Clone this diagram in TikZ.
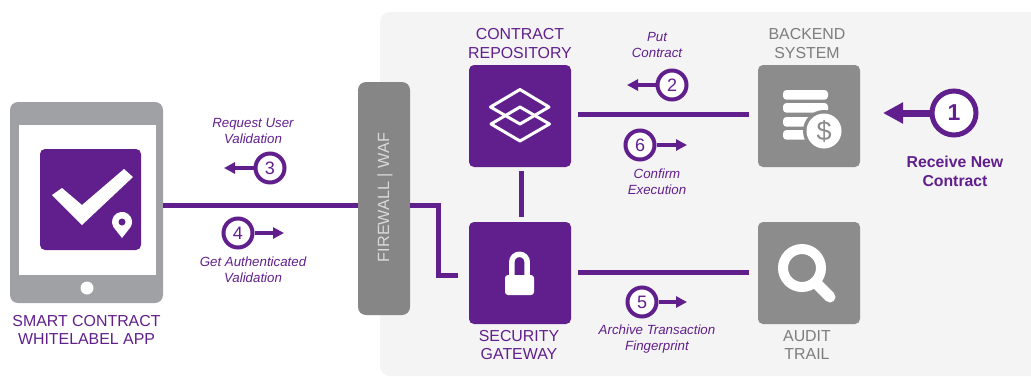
\documentclass[tikz,border=0pt]{standalone}
\usepackage{fontspec}
\setmainfont{Liberation Sans}
\usepackage{tikz}
\usetikzlibrary{positioning, arrows.meta}
\definecolor{grape}{RGB}{97,31,141}
\definecolor{slab}{RGB}{140,140,140}
\definecolor{wall}{RGB}{134,134,134}
\definecolor{shell}{RGB}{160,161,164}
\definecolor{panel}{RGB}{244,244,244}
\definecolor{tag}{RGB}{125,125,125}

\begin{document}
\begin{tikzpicture}[
				x=1pt, y=-1pt,
				>={Triangle[length=11pt, width=11pt]},
				tile/.style={rectangle, rounded corners=5pt, minimum size=102pt, inner sep=0pt, fill=grape},
				graytile/.style={tile, fill=slab},
				caption/.style={align=center, text=grape, font=\fontsize{15.9}{18.5}\selectfont},
				graycaption/.style={caption, text=tag},
				note/.style={align=center, text=grape, font=\fontsize{13.3}{16}\selectfont\itshape},
				stepmark/.style={circle, draw=grape, line width=4pt, fill=white, minimum size=29pt, inner sep=0pt, text=grape, font=\fontsize{18}{18}\selectfont},
				link/.style={draw=grape, line width=5pt},
				flow/.style={->, draw=grape, line width=3.5pt},
				glyph/.style={draw=white, line width=3pt, line join=round}]
				
			\useasboundingbox (0,0) rectangle (1031,376);
			\fill[panel, rounded corners=10pt] (1031,376) -- (380,376) -- (380,12) [sharp corners] -- (1031,12) -- cycle;
			
			% tablet
			\node[rectangle, rounded corners=8pt, minimum width=153pt, minimum height=201pt, inner sep=0pt, fill=shell] (tablet) at (86.5,202.5) {};
			\node[rectangle, minimum width=137pt, minimum height=150pt, inner sep=0pt, fill=white] (screen) at (87.5,200) {};
			\node[tile, minimum size=101pt] (app) at (90.5,199.5) {};
			\node[circle, minimum size=13pt, inner sep=0pt, fill=white] (button) at (87,288) {};
			\fill[white] (52,195) -- (62,188) -- (82,205) -- (124,169) -- (133,177) -- (82,225) -- cycle;
			\fill[white] (122,238) -- (113.4,227) arc[start angle=149.5, end angle=390.5, radius=10] -- cycle;
			\fill[grape] (122,222) circle[radius=3.5];
			\node[caption, below of=tablet, node distance=127.5pt] (tablet_label) {SMART CONTRACT\\WHITELABEL APP};
			
			% firewall
			\node[rectangle, rounded corners=8pt, minimum width=52pt, minimum height=233pt, inner sep=0pt, fill=wall] (firewall) at (384,198.5) {};
			\node[rotate=90, text=white!85!black, font=\fontsize{16.2}{18}\selectfont] (firewall_label) at (385,197.5) {FIREWALL | WAF};
			
			% tiles
			\node[tile] (repository) at (520,116) {};
			\node[graytile, right of=repository, node distance=289pt] (backend) {};
			\node[tile, below of=repository, node distance=157pt] (gateway) {};
			\node[graytile, right of=gateway, node distance=289pt] (audit) {};
			
			\node[caption, above of=repository, node distance=72.5pt] (repository_label) {CONTRACT\\REPOSITORY};
			\node[graycaption, above of=backend, node distance=72.5pt, xshift=-2pt] (backend_label) {BACKEND\\SYSTEM};
			\node[caption, below of=gateway, node distance=72pt, xshift=-1pt] (gateway_label) {SECURITY\\GATEWAY};
			\node[graycaption, below of=audit, node distance=72pt, xshift=-2pt] (audit_label) {AUDIT\\TRAIL};
			
			% icons
			\draw[glyph] (490.5,107) -- (520,89.5) -- (549,107) -- (520,124) -- cycle;
			\draw[glyph] (491,124) -- (520,107) -- (549.5,124) -- (520,141) -- cycle;
			
			\draw[white, line width=5.5pt] (511.8,276) -- (511.8,262) arc[start angle=180, end angle=360, radius=7.7] -- (527.2,276);
			\fill[white, rounded corners=3pt] (505,275) rectangle (534,295);
			
			\foreach \barY in {90,103,117,130}
				\fill[white, rounded corners=3.5pt] (783,\barY) rectangle (828,\barY+9.7);
			\fill[slab] (824,131) circle[radius=21];
			\node[circle, minimum size=35pt, inner sep=0pt, fill=white, text=slab, font=\fontsize{27}{27}\selectfont] (coin) at (824,131) {\$};
			
			\draw[white, line width=10pt] (802,268) circle[radius=19];
			\draw[white, line width=11pt, line cap=round] (816,283) -- (830,297);
			
			% connectors
			\draw[link] ([yshift=-2.5pt]tablet.east) -- ([yshift=-6.5pt]firewall.west);
			\draw[link, shorten >=11pt] ([yshift=-6.5pt]firewall.east) -- ++(28.5,0) |- ([yshift=-2pt]gateway.west);
			\draw[link, shorten <=7pt, shorten >=9pt] ([yshift=2pt]repository.east) -- ([yshift=2pt]backend.west);
			\draw[link, shorten <=7pt, shorten >=9pt] ([yshift=1pt]gateway.east) -- ([yshift=1pt]audit.west);
			\draw[link, shorten <=4pt, shorten >=5pt] ([xshift=1pt]repository.south) -- ([xshift=1pt]gateway.north);
			
			% steps
			\node[stepmark, line width=5pt, minimum size=44pt, font=\fontsize{23}{23}\selectfont\bfseries] (step1) at (954,113) {1};
			\node[stepmark] (step2) at (672,85) {2};
			\node[stepmark] (step3) at (270,168) {3};
			\node[stepmark] (step4) at (238,233) {4};
			\node[stepmark] (step5) at (642,302) {5};
			\node[stepmark] (step6) at (640,145) {6};
			
			\coordinate (tip1) at (883,113);
			\coordinate (tip2) at (627,85);
			\coordinate (tip3) at (224,168);
			\coordinate (tip4) at (284,233);
			\coordinate (tip5) at (687,302);
			\coordinate (tip6) at (687,145);
			
			\draw[flow, line width=7pt, >={Triangle[length=20pt, width=20pt]}] (step1) -- (tip1);
			\foreach \n in {2,...,6}
				\draw[flow] (step\n) -- (tip\n);
			
			\node[align=center, text=grape, font=\fontsize{15.8}{19}\selectfont\bfseries] (step1_label) at (955,171.5) {Receive New\\Contract};
			\node[note] (step2_label) at (657,45) {Put\\Contract};
			\node[note] (step3_label) at (253,131) {Request User\\Validation};
			\node[note] (step4_label) at (253,269.5) {Get Authenticated\\Validation};
			\node[note] (step5_label) at (657,339) {Archive Transaction\\Fingerprint};
			\node[note] (step6_label) at (657,182) {Confirm\\Execution};
		\end{tikzpicture}
\end{document}
